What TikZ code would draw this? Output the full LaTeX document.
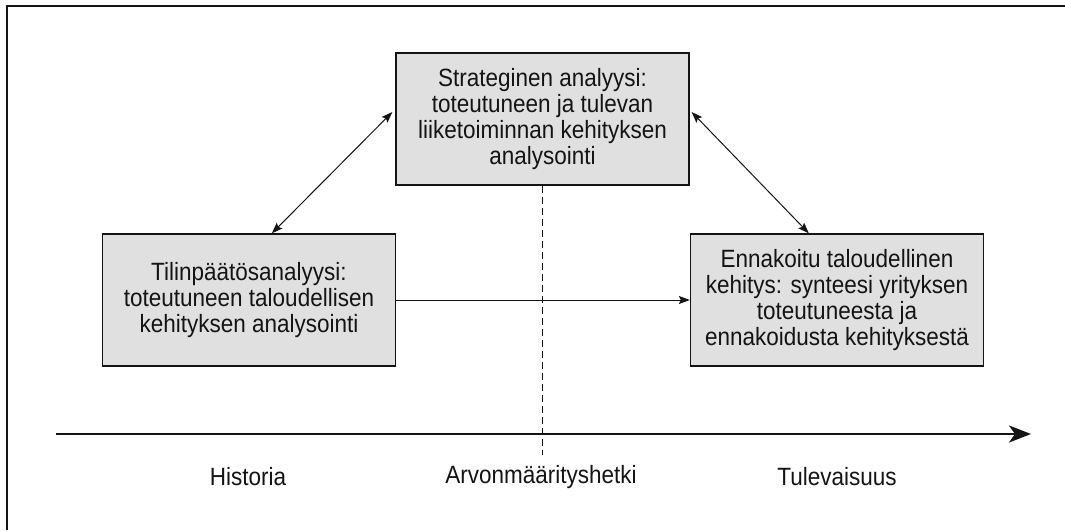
\documentclass[tikz,border=0pt]{standalone}
\usepackage{fontspec}
\setmainfont{Liberation Sans}[FakeStretch=0.9]
\usetikzlibrary{arrows.meta,calc}
\definecolor{boxfill}{RGB}{224,224,224}
\definecolor{ink}{RGB}{20,20,20}
\begin{document}
\begin{tikzpicture}[x=1pt,y=-1pt,
  box/.style={draw=ink,line width=1.3pt,fill=boxfill,minimum width=293pt,minimum height=132pt,
    align=center,inner sep=0pt,font=\fontsize{25}{26}\selectfont,text=ink},
  lbl/.style={font=\fontsize{25}{26}\selectfont,text=ink},
  conn/.style={draw=ink,line width=1pt}]
\useasboundingbox (0,0) rectangle (1065,530);
% frame
\draw[ink,line width=1.6pt] (7,530) -- (7,6) -- (1065,6);
% boxes
\node[box] (tbox) at (542.5,119) {Strateginen analyysi:\\toteutuneen ja tulevan\\liiketoiminnan kehityksen\\analysointi};
\node[box] (lbox) at (249,300) {Tilinpäätösanalyysi:\\toteutuneen taloudellisen\\kehityksen analysointi};
\node[box] (rbox) at (837,300) {Ennakoitu taloudellinen\\kehitys: synteesi yrityksen\\toteutuneesta ja\\ennakoidusta kehityksestä};
% dashed line
\coordinate (dend) at (542.5,455);
\draw[ink,line width=1pt,dash pattern=on 7pt off 4pt] (tbox.south) -- (dend);
% timeline
\coordinate (tl0) at (56,434);
\coordinate (tl1) at (1031,434);
\draw[ink,line width=2.6pt,-{Stealth[length=22pt,width=17pt,inset=6pt]}] (tl0) -- (tl1);
% connectors
\draw[conn,{Stealth[length=11pt,width=8pt,inset=2pt]}-{Stealth[length=11pt,width=8pt,inset=2pt]}]
  ($(lbox.north west)+(170,0)$) -- ($(tbox.west)+(-3,-7)$);
\draw[conn,{Stealth[length=11pt,width=8pt,inset=2pt]}-{Stealth[length=11pt,width=8pt,inset=2pt]}]
  ($(tbox.east)+(2,-7)$) -- ($(rbox.north west)+(119,0)$);
\draw[conn,-{Stealth[length=11pt,width=8pt,inset=2pt]}] (lbox.east) -- (rbox.west);
% labels
\node[lbl] (hist) at (248,477) {Historia};
\node[lbl] (arvo) at (541,477) {Arvonmäärityshetki};
\node[lbl] (tule) at (837,477) {Tulevaisuus};
\end{tikzpicture}
\end{document}
